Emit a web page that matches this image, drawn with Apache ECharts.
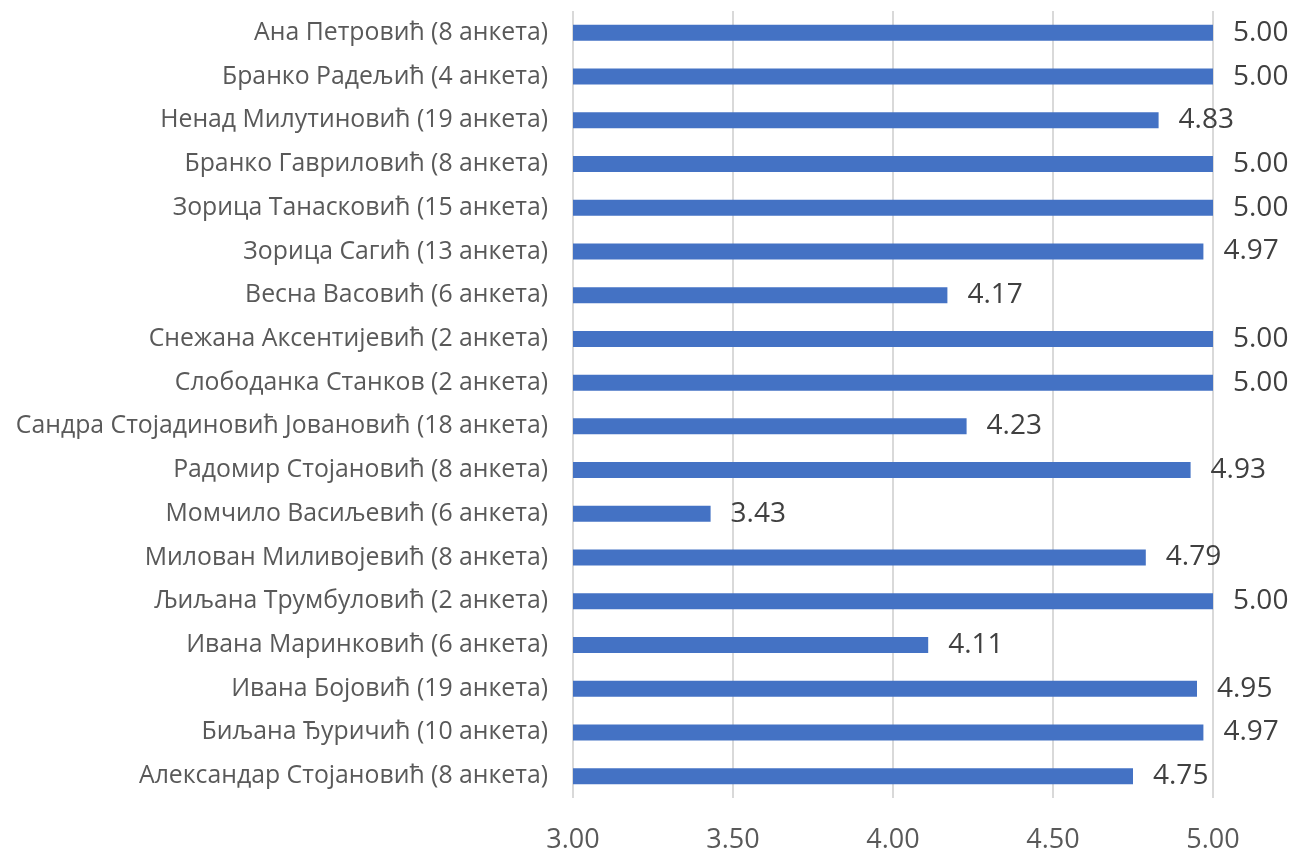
<!DOCTYPE html>
<html><head><meta charset="utf-8">
<script src="https://cdn.jsdelivr.net/npm/echarts@6/dist/echarts.min.js"></script>
<style>html,body{margin:0;padding:0;background:#fff}#c{width:1297px;height:854px}</style>
</head><body><div id="c"></div>
<script>
const categories = [
  "Ана Петровић (8 анкета)",
  "Бранко Радељић (4 анкета)",
  "Ненад Милутиновић (19 анкета)",
  "Бранко Гавриловић (8 анкета)",
  "Зорица Танасковић (15 анкета)",
  "Зорица Сагић (13 анкета)",
  "Весна Васовић (6 анкета)",
  "Снежана Аксентијевић (2 анкета)",
  "Слободанка Станков (2 анкета)",
  "Сандра Стојадиновић Јовановић (18 анкета)",
  "Радомир Стојановић (8 анкета)",
  "Момчило Васиљевић (6 анкета)",
  "Милован Миливојевић (8 анкета)",
  "Љиљана Трумбуловић (2 анкета)",
  "Ивана Маринковић (6 анкета)",
  "Ивана Бојовић (19 анкета)",
  "Биљана Ђуричић (10 анкета)",
  "Александар Стојановић (8 анкета)"
];
const values = [5.00, 5.00, 4.83, 5.00, 5.00, 4.97, 4.17, 5.00, 5.00, 4.23, 4.93, 3.43, 4.79, 5.00, 4.11, 4.95, 4.97, 4.75];
const xMin = 3, xMax = 5, xStep = 0.5;

const FONT = "'Open Sans', sans-serif";
const chart = echarts.init(document.getElementById('c'));
chart.setOption({
  animation: false,
  grid: {left: 573, right: 84, top: 11, bottom: 54, containLabel: false},
  xAxis: {
    type: 'value', min: xMin, max: xMax, interval: xStep,
    axisLine: {show: false}, axisTick: {show: false},
    splitLine: {show: true, lineStyle: {color: '#d9d9d9', width: 2}},
    axisLabel: {formatter: v => v.toFixed(2), color: '#595959', fontSize: 27, fontFamily: FONT, margin: 29}
  },
  yAxis: {
    type: 'category', data: categories, inverse: true,
    axisLine: {show: false}, axisTick: {show: false},
    axisLabel: {color: '#595959', fontSize: 24.8, fontFamily: FONT, margin: 25}
  },
  series: [{
    type: 'bar', data: values, barWidth: 16,
    itemStyle: {color: '#4472C4'},
    label: {show: true, position: 'right', distance: 20, formatter: p => p.value.toFixed(2),
      color: '#404040', fontSize: 28, fontFamily: FONT}
  }]
});
</script></body></html>
